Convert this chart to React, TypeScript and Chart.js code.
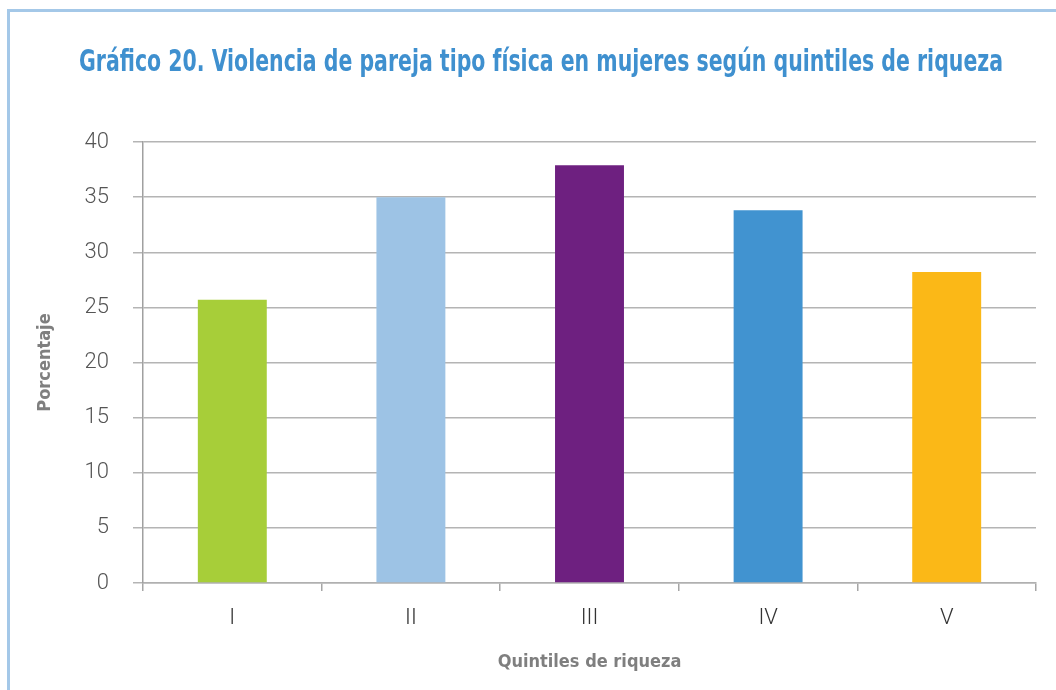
import React, { useEffect, useRef } from "react";
import { Chart, registerables } from "chart.js";

Chart.register(...registerables);

const categories = ["I", "II", "III", "IV", "V"];
const values = [25.7, 35.0, 37.9, 33.8, 28.2];
const barColors = ["#a7ce39", "#9dc3e5", "#6e2080", "#4193d0", "#fbb817"];
const yTicks = [0, 5, 10, 15, 20, 25, 30, 35, 40];
const titleText = "Gráfico 20. Violencia de pareja tipo física en mujeres según quintiles de riqueza";
const xTitle = "Quintiles de riqueza";
const yTitle = "Porcentaje";

const condensed = "'DejaVu Sans Condensed', 'Liberation Sans Narrow', sans-serif";

const framePlugin = {
  id: "frame",
  beforeDraw(chart: any) {
    const ctx = chart.ctx;
    ctx.save();
    ctx.fillStyle = "#ffffff";
    ctx.fillRect(0, 0, chart.width, chart.height);
    ctx.fillStyle = "#a4c8e8";
    ctx.fillRect(7, 9, 3, chart.height);
    ctx.fillRect(7, 9, chart.width, 3);
    ctx.restore();
  },
  afterDraw(chart: any) {
    const ctx = chart.ctx;
    ctx.save();
    ctx.fillStyle = "#3f90cf";
    ctx.font = "bold 30px " + condensed;
    ctx.textAlign = "center";
    ctx.textBaseline = "middle";
    const w = ctx.measureText(titleText).width;
    const sx = 924 / w;
    ctx.translate(541, 63);
    ctx.scale(sx, 1);
    ctx.fillText(titleText, 0, 0);
    ctx.restore();
  },
};

export default function App() {
  const ref = useRef<HTMLCanvasElement | null>(null);
  useEffect(() => {
    if (!ref.current) return;
    const chart = new Chart(ref.current, {
      type: "bar",
      data: {
        labels: categories,
        datasets: [
          {
            data: values,
            backgroundColor: barColors,
            borderWidth: 0,
            barPercentage: 0.386,
            categoryPercentage: 1,
          },
        ],
      },
      options: {
        animation: false,
        responsive: false,
        devicePixelRatio: 1,
        layout: { padding: { left: 0, right: 20, top: 142, bottom: 0 } },
        plugins: {
          legend: { display: false },
          tooltip: { enabled: false },
          title: { display: false },
        },
        scales: {
          x: {
            offset: true,
            grid: {
              offset: true,
              drawOnChartArea: false,
              drawTicks: true,
              tickLength: 8,
              color: "#a6a6a6",
              lineWidth: 1.5,
            },
            border: { display: true, color: "#b0b0b0", width: 1.5 },
            ticks: {
              color: "#333333",
              padding: 14,
              font: { family: "Roboto", weight: "300", size: 22 },
            },
            title: {
              display: true,
              text: xTitle,
              color: "#7f7f7f",
              font: { family: condensed, weight: "bold", size: 18 },
              padding: { top: 0, bottom: 17 },
            },
            afterFit(scale: any) {
              scale.height = 107;
            },
          },
          y: {
            min: 0,
            max: 40,
            afterBuildTicks(scale: any) {
              scale.ticks = yTicks.map((v) => ({ value: v }));
            },
            grid: {
              color: "#b4b4b4",
              lineWidth: 1.5,
              tickLength: 10,
              drawTicks: true,
            },
            border: { display: true, color: "#a0a0a0", width: 1.5 },
            ticks: {
              color: "#555555",
              padding: 24,
              font: { family: "Roboto", weight: "300", size: 22 },
            },
            title: {
              display: true,
              text: yTitle,
              color: "#7f7f7f",
              font: { family: condensed, weight: "bold", size: 18 },
              padding: { top: 35, bottom: 0 },
            },
            afterFit(scale: any) {
              scale.width = 143;
            },
          },
        },
      },
      plugins: [framePlugin],
    });
    return () => chart.destroy();
  }, []);
  return (
    <div style={{ position: "fixed", left: 0, top: 0, width: 1056, height: 690, background: "#fff" }}>
      <canvas ref={ref} width={1056} height={690} style={{ display: "block" }} />
    </div>
  );
}
